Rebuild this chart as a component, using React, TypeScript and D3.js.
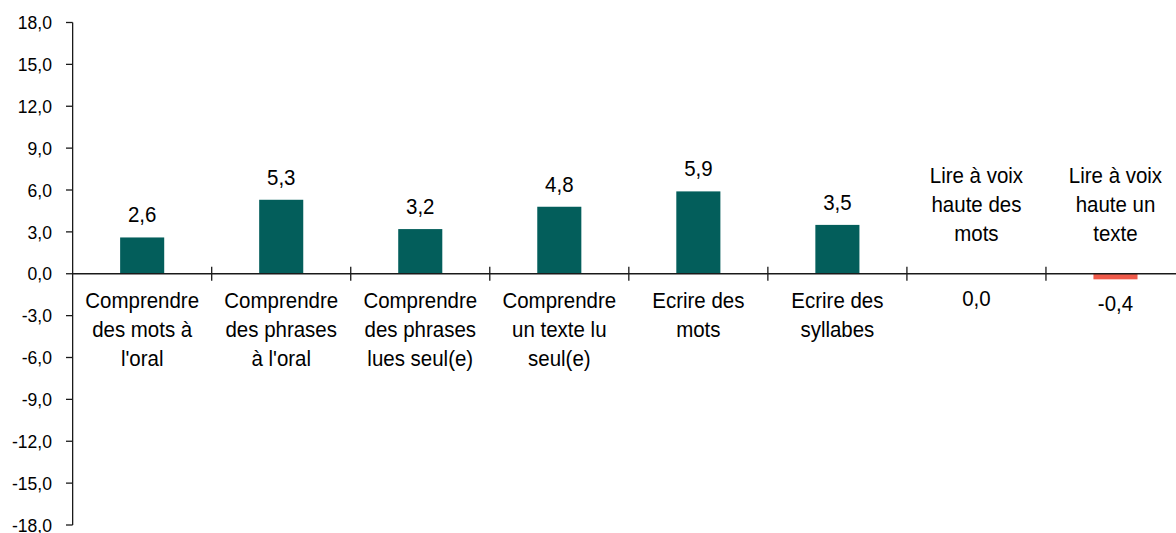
import React from "react";
import * as d3 from "d3";

const categories: string[] = [
  "Comprendre\ndes mots à\nl'oral",
  "Comprendre\ndes phrases\nà l'oral",
  "Comprendre\ndes phrases\nlues seul(e)",
  "Comprendre\nun texte lu\nseul(e)",
  "Ecrire des\nmots",
  "Ecrire des\nsyllabes",
  "Lire à voix\nhaute des\nmots",
  "Lire à voix\nhaute un\ntexte",
];
const values: number[] = [2.6, 5.3, 3.2, 4.8, 5.9, 3.5, 0.0, -0.4];
const yTicks: number[] = [-18, -15, -12, -9, -6, -3, 0, 3, 6, 9, 12, 15, 18];

const W = 1176;
const H = 533;
const FONT = "'Liberation Sans', Arial, sans-serif";
const POS = "#035E5B";
const NEG = "#EF5A4A";
const AXIS = "#1a1a1a";
const LABEL_SIZE = 22.5;
const SX = 0.91;

const fmt = (v: number) => v.toFixed(1).replace(".", ",");

export default function App() {
  const x = d3.scaleBand<string>().domain(categories).range([72.65, 1185]).padding(0);
  const y = d3.scaleLinear().domain([-18, 18]).range([525, 22.5]);
  const bw = x.bandwidth();
  const barW = bw * 0.317;
  const y0 = y(0);
  const lineH = 29;

  return (
    <div style={{ position: "absolute", left: 0, top: 0 }}>
      <svg width={W} height={H} style={{ display: "block", fontFamily: FONT }}>
        <rect x={0} y={0} width={W} height={H} fill="#fff" />
        {/* bars */}
        {values.map((v, i) => {
          const c = categories[i];
          const top = y(Math.max(0, v));
          const bot = y(Math.min(0, v));
          return (
            <rect
              key={"b" + i}
              x={(x(c) as number) + (bw - barW) / 2}
              y={top}
              width={barW}
              height={Math.max(0, bot - top)}
              fill={v < 0 ? NEG : POS}
            />
          );
        })}
        {/* y axis */}
        <line x1={72.65} x2={72.65} y1={y(18)} y2={y(-18)} stroke={AXIS} strokeWidth={1.3} />
        {yTicks.map((t) => (
          <g key={"yt" + t}>
            <line x1={66} x2={72.65} y1={y(t)} y2={y(t)} stroke={AXIS} strokeWidth={1.3} />
            <text
              transform={`translate(52,${y(t)}) scale(0.95,1)`}
              dy="0.36em"
              textAnchor="end"
              fontSize={18.5}
              fill="#000"
            >
              {fmt(t)}
            </text>
          </g>
        ))}
        {/* x axis */}
        <line x1={72.65} x2={W} y1={y0} y2={y0} stroke={AXIS} strokeWidth={1.3} />
        {categories.map((c, i) =>
          i === 0 ? null : (
            <line
              key={"xt" + i}
              x1={x(c) as number}
              x2={x(c) as number}
              y1={y0 - 7}
              y2={y0 + 7}
              stroke={AXIS}
              strokeWidth={1.3}
            />
          )
        )}
        {/* category labels */}
        {categories.map((c, i) => {
          const cx = (x(c) as number) + bw / 2;
          const lines = c.split("\n");
          const v = values[i];
          const above = v <= 0;
          return (
            <g key={"cl" + i}>
              {lines.map((ln, j) => {
                const by = above
                  ? y0 - 33 - (lines.length - 1 - j) * lineH
                  : y0 + 34.5 + j * lineH;
                return (
                  <text
                    key={j}
                    transform={`translate(${cx},${by}) scale(${SX},1)`}
                    textAnchor="middle"
                    fontSize={LABEL_SIZE}
                    fill="#000"
                  >
                    {ln}
                  </text>
                );
              })}
            </g>
          );
        })}
        {/* value labels */}
        {values.map((v, i) => {
          const c = categories[i];
          const cx = (x(c) as number) + bw / 2;
          const by = v > 0 ? y(v) - 15 : y(v) + 32;
          return (
            <text
              key={"vl" + i}
              transform={`translate(${cx},${by}) scale(${SX},1)`}
              textAnchor="middle"
              fontSize={LABEL_SIZE}
              fill="#000"
            >
              {fmt(v)}
            </text>
          );
        })}
      </svg>
    </div>
  );
}
